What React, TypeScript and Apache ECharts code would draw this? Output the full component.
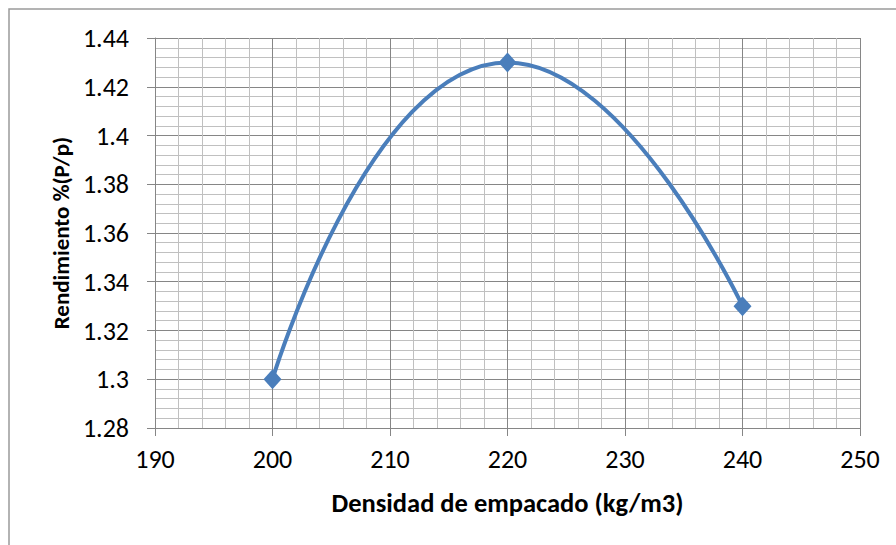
import React, { useEffect, useRef } from "react";
import * as echarts from "echarts";

const xValues = [200, 220, 240];
const yValues = [1.3, 1.43, 1.33];
const xTitle = "Densidad de empacado (kg/m3)";
const yTitle = "Rendimiento %(P/p)";

export default function App() {
  const ref = useRef<HTMLDivElement>(null);
  useEffect(() => {
    if (!ref.current) return;
    const chart = echarts.init(ref.current, undefined, { renderer: "svg" });
    const font = "Carlito, Lato, 'Liberation Sans', sans-serif";
    chart.setOption({
      animation: false,
      backgroundColor: "#ffffff",
      graphic: [
        {
          type: "rect",
          shape: { x: 9, y: 9, width: 900, height: 560 },
          style: { fill: "none", stroke: "#9a9a9a", lineWidth: 1.5 },
          silent: true,
        },
      ],
      grid: { left: 155, right: 36, top: 38, bottom: 117, containLabel: false },
      xAxis: {
        type: "value",
        min: 190,
        max: 250,
        interval: 10,
        name: xTitle,
        nameLocation: "middle",
        nameGap: 61,
        nameTextStyle: { fontFamily: font, fontSize: 26.5, fontWeight: "bold", color: "#000" },
        axisLine: { show: true, lineStyle: { color: "#868686", width: 1 } },
        axisTick: { show: true, length: 8, lineStyle: { color: "#868686" } },
        axisLabel: { fontFamily: font, fontSize: 26, color: "#000", margin: 18 },
        splitLine: { show: true, lineStyle: { color: "#868686", width: 1 } },
        minorTick: { show: false, splitNumber: 5 },
        minorSplitLine: { show: true, lineStyle: { color: "#c0c0c0", width: 1 } },
      },
      yAxis: {
        type: "value",
        min: 1.28,
        max: 1.44,
        interval: 0.02,
        name: yTitle,
        nameLocation: "middle",
        nameGap: 80,
        nameRotate: 90,
        nameTextStyle: { fontFamily: font, fontSize: 23, fontWeight: "bold", color: "#000" },
        axisLine: { show: true, lineStyle: { color: "#868686", width: 1 } },
        axisTick: { show: true, length: 8, lineStyle: { color: "#868686" } },
        axisLabel: { fontFamily: font, fontSize: 26, color: "#000", margin: 26 },
        splitLine: { show: true, lineStyle: { color: "#868686", width: 1 } },
        minorTick: { show: false, splitNumber: 5 },
        minorSplitLine: { show: true, lineStyle: { color: "#c0c0c0", width: 1 } },
      },
      series: [
        {
          type: "line",
          data: xValues.map((x, i) => [x, yValues[i]]),
          smooth: 0.55,
          symbol: "diamond",
          symbolSize: [18, 20],
          lineStyle: { color: "#4a7ebb", width: 4 },
          itemStyle: { color: "#4a7ebb" },
        },
      ],
    });
    return () => chart.dispose();
  }, []);
  return (
    <div
      ref={ref}
      style={{ position: "fixed", left: 0, top: 0, width: 896, height: 545 }}
    />
  );
}
